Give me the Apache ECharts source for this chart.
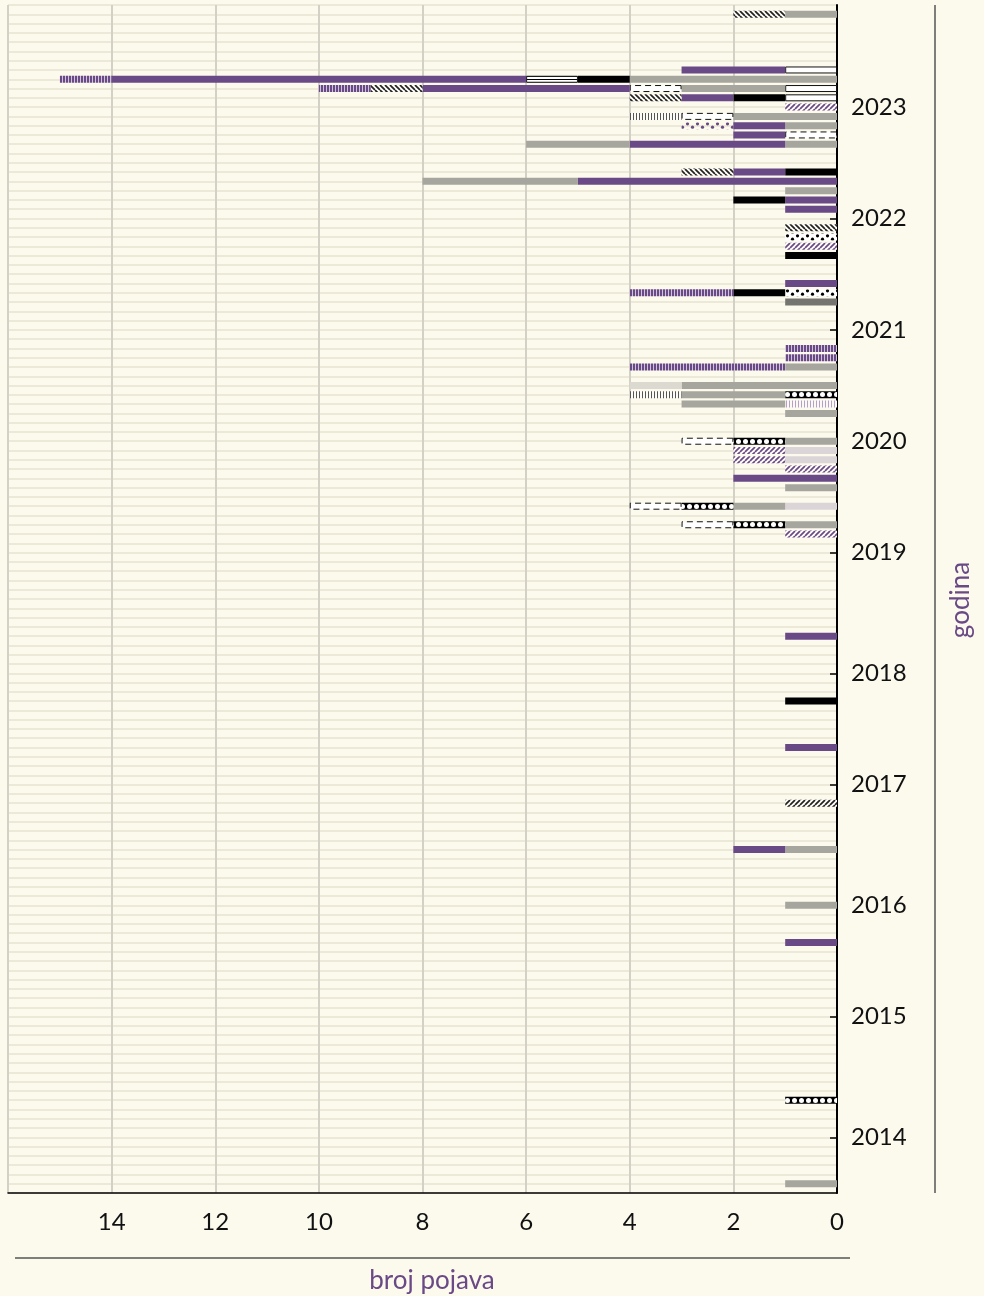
<!DOCTYPE html>
<html>
<head>
<meta charset="utf-8">
<script src="https://cdn.jsdelivr.net/npm/echarts@6/dist/echarts.min.js"></script>
<style>
  html, body { margin: 0; padding: 0; background: #fcf9ed; }
  #chart { width: 984px; height: 1296px; }
</style>
</head>
<body>
<div id="chart"></div>
<script>
// ---- rows (top to bottom) and axis labels ----
const ROW_COUNT = 129;
const categories = Array.from({ length: ROW_COUNT }, (_, i) => 'r' + i);
const yearLabels = ['2023', '2022', '2021', '2020', '2019', '2018', '2017', '2016', '2015', '2014'];
const yearRows   = [11, 23, 35, 47, 59, 72, 84, 97, 109, 122];
const xTickLabels = [0, 2, 4, 6, 8, 10, 12, 14];

// ---- counts per type: [row, count], listed in stacking order (from 0 outward) ----
const v01 = [[48, 1], [49, 1], [54, 1]];
const v02 = [[43, 1]];
const v03 = [[42, 1]];
const v04 = [[7, 1], [9, 1], [10, 1]];
const v05 = [[1, 1], [8, 4], [9, 2], [12, 2], [13, 1], [15, 1], [20, 1], [39, 1], [41, 3], [42, 2],
             [43, 2], [44, 1], [47, 1], [52, 1], [54, 1], [56, 1], [91, 1], [97, 1], [127, 1]];
const v06 = [[41, 1]];
const v07 = [[25, 1], [31, 1]];
const v08 = [[8, 1], [10, 1], [18, 1], [27, 1], [31, 1], [75, 1]];
const v09 = [[47, 1], [54, 1], [56, 1], [118, 1]];
const v10 = [[9, 1], [12, 1], [14, 1], [47, 1], [54, 1], [56, 1]];
const v11 = [[8, 1]];
const v12 = [[7, 2], [8, 8], [9, 4], [10, 1], [13, 1], [14, 1], [15, 3], [18, 1], [19, 5], [21, 1],
             [22, 1], [30, 1], [51, 2], [68, 1], [80, 1], [91, 1], [101, 1]];
const v13 = [[13, 1]];
const v14 = [[21, 1]];
const v15 = [[1, 1], [9, 1], [10, 1], [18, 1], [24, 1]];
const v16 = [[86, 1]];
const v17 = [[11, 1], [26, 1], [48, 1], [49, 1], [50, 1], [57, 1]];
const v18 = [[12, 1], [42, 1]];
const v19 = [[8, 1], [9, 1], [31, 2], [37, 1], [38, 1], [39, 3]];
const v20 = [[15, 2], [19, 3]];
const v21 = [[32, 1]];

const typeNames = ['v01', 'v02', 'v03', 'v04', 'v05', 'v06', 'v07', 'v08', 'v09', 'v10', 'v11',
                   'v12', 'v13', 'v14', 'v15', 'v16', 'v17', 'v18', 'v19', 'v20', 'v21'];
const typeCounts = { v01, v02, v03, v04, v05, v06, v07, v08, v09, v10, v11,
                     v12, v13, v14, v15, v16, v17, v18, v19, v20, v21 };

// ---- fills ----
const PURPLE = '#694a86';
const GRAY = '#a6a69e';
const INK = '#6a4a86';
const PAPER = '#fcf9ed';

function makeTile(w, h, paint) {
  const c = document.createElement('canvas');
  c.width = w; c.height = h;
  paint(c.getContext('2d'), w, h);
  return c;
}
function hatch(fg, back, bg) {
  return makeTile(5, 5, (g) => {
    g.fillStyle = bg; g.fillRect(0, 0, 5, 5);
    g.strokeStyle = fg; g.lineWidth = 1.7; g.beginPath();
    for (const o of [-5, 0, 5]) {
      if (back) { g.moveTo(o, 0); g.lineTo(o + 5, 5); }
      else { g.moveTo(o, 5); g.lineTo(o + 5, 0); }
    }
    g.stroke();
  });
}
function vstripes(fg, bg, a, b) {
  return makeTile(a + b, 1, (g) => {
    g.fillStyle = bg; g.fillRect(0, 0, a + b, 1);
    g.fillStyle = fg; g.fillRect(0, 0, a, 1);
  });
}
function dots(fg, bg) {
  return makeTile(10, 7, (g) => {
    if (bg) { g.fillStyle = bg; g.fillRect(0, 0, 10, 7); }
    g.fillStyle = fg;
    g.beginPath(); g.arc(2.5, 5.2, 1.6, 0, Math.PI * 2); g.fill();
    g.beginPath(); g.arc(7.5, 1.8, 1.6, 0, Math.PI * 2); g.fill();
  });
}
function holes() {
  return makeTile(7, 7, (g) => {
    g.fillStyle = '#000'; g.fillRect(0, 0, 7, 7);
    g.fillStyle = '#fff';
    g.beginPath(); g.arc(3.5, 3.5, 2.5, 0, Math.PI * 2); g.fill();
  });
}
function hlines() {
  return makeTile(1, 3, (g) => {
    g.fillStyle = '#fff'; g.fillRect(0, 0, 1, 3);
    g.fillStyle = '#000'; g.fillRect(0, 0, 1, 1);
  });
}

const looks = {
  v01: { fill: '#dcd5d8' },
  v02: { tile: vstripes('#b4a1c9', '#fbf8f5', 1, 2) },
  v03: { tile: holes() },
  v04: { fill: '#ffffff', border: '#111', borderType: 'solid' },
  v05: { fill: GRAY },
  v06: { fill: '#dcd9d0' },
  v07: { tile: dots('#000', '#ffffff') },
  v08: { fill: '#000000' },
  v09: { tile: holes() },
  v10: { fill: '#ffffff', border: '#111', borderType: [6, 4] },
  v11: { tile: hlines(), border: '#111', borderType: 'solid' },
  v12: { fill: PURPLE },
  v13: { tile: dots(PURPLE, null) },
  v14: { fill: '#000000' },
  v15: { tile: hatch('#222', true, '#fdfcf6') },
  v16: { tile: hatch('#222', false, '#fdfcf6') },
  v17: { tile: hatch(PURPLE, false, '#fdfcf8') },
  v18: { tile: vstripes('#555555', '#fdfcf6', 1, 2) },
  v19: { tile: vstripes(PURPLE, '#cfc4da', 2, 1) },
  v20: { fill: GRAY },
  v21: { fill: '#747470' }
};

function seriesValues(name) {
  const arr = new Array(ROW_COUNT).fill('-');
  typeCounts[name].forEach(([row, n]) => { arr[row] = n; });
  return arr;
}

function baseStyle(look) {
  const s = {};
  s.color = look.tile ? { image: look.tile, repeat: 'repeat' } : look.fill;
  if (look.border) {
    s.borderColor = look.border;
    s.borderWidth = 1;
    s.borderType = look.borderType;
  }
  return s;
}

const chart = echarts.init(document.getElementById('chart'), null, { renderer: 'canvas' });

const option = {
  animation: false,
  backgroundColor: PAPER,
  grid: { left: 8, right: 147, top: 5, bottom: 103, containLabel: false },
  xAxis: {
    type: 'value',
    inverse: true,
    min: 0,
    max: 16,
    interval: 2,
    axisLine: { show: true, onZero: false, lineStyle: { color: '#000', width: 1.5 } },
    axisTick: { show: false },
    axisLabel: {
      margin: 17,
      color: '#111',
      fontSize: 24,
      fontFamily: 'Lato',
      formatter: (v) => (xTickLabels.includes(v) ? String(v) : '')
    },
    splitLine: { show: true, lineStyle: { color: '#d3d0c6', width: 2 } }
  },
  yAxis: {
    type: 'category',
    data: categories,
    inverse: true,
    position: 'right',
    boundaryGap: false,
    axisLine: { show: true, onZero: false, lineStyle: { color: '#000', width: 2 } },
    axisTick: {
      show: true, inside: true, length: 7,
      interval: (i) => yearRows.includes(i),
      lineStyle: { color: '#000', width: 1.5 }
    },
    axisLabel: {
      interval: (i) => yearRows.includes(i),
      formatter: (v, i) => {
        const k = yearRows.indexOf(i);
        return k >= 0 ? yearLabels[k] : '';
      },
      margin: 14,
      color: '#111',
      fontSize: 24,
      fontFamily: 'Lato'
    },
    splitLine: { show: true, interval: 0, lineStyle: { color: '#ede9d9', width: 2 } }
  },
  series: typeNames.map((name) => ({
    type: 'bar',
    name,
    stack: 'pojave',
    barWidth: 7,
    data: seriesValues(name),
    itemStyle: baseStyle(looks[name])
  })),
  graphic: [
    { type: 'line', shape: { x1: 15, y1: 1258, x2: 850, y2: 1258 },
      style: { stroke: '#555', lineWidth: 1.5 } },
    { type: 'text', x: 432, y: 1281,
      style: { text: 'broj pojava', fill: INK, font: '26px Lato', textAlign: 'center', textVerticalAlign: 'middle' } },
    { type: 'line', shape: { x1: 935, y1: 5, x2: 935, y2: 1193 },
      style: { stroke: '#555', lineWidth: 1.5 } },
    { type: 'text', x: 961, y: 600, rotation: Math.PI / 2,
      style: { text: 'godina', fill: INK, font: '26px Lato', textAlign: 'center', textVerticalAlign: 'middle' } }
  ]
};

chart.setOption(option);

// Anchor each patterned segment's tile to the top edge of its own bar.
const half = 3.5;
chart.setOption({
  series: typeNames.map((name) => {
    const look = looks[name];
    if (!look.tile) return { name };
    const data = seriesValues(name).map((v, row) => {
      if (v === '-') return v;
      const yc = chart.convertToPixel({ yAxisIndex: 0 }, row);
      const style = baseStyle(look);
      style.color = { image: look.tile, repeat: 'repeat', x: 0, y: Math.round(yc - half) };
      return { value: v, itemStyle: style };
    });
    return { name, data };
  })
});
</script>
</body>
</html>
